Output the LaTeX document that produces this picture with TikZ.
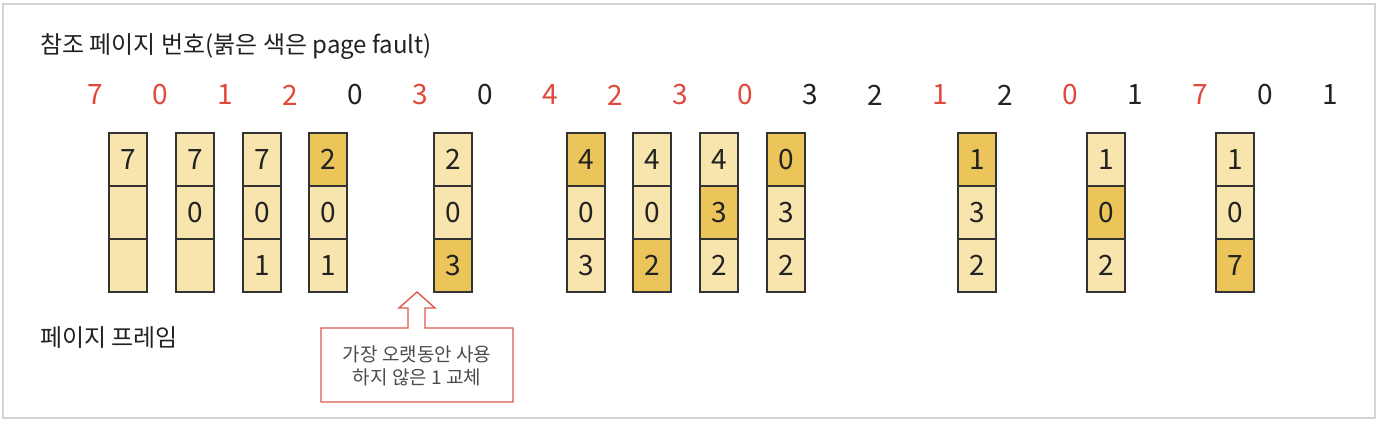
\documentclass[tikz,border=0pt]{standalone}
\usepackage{fontspec}
\setmainfont{Noto Sans CJK KR}
\definecolor{lite}{RGB}{248,229,174}
\definecolor{gold}{RGB}{235,196,90}
\definecolor{faultred}{RGB}{226,72,58}
\definecolor{txt}{RGB}{34,34,34}
\definecolor{calloutred}{RGB}{224,88,76}
\definecolor{framegray}{RGB}{212,212,212}
\tikzset{
  cell/.style={draw=black!80, line width=1.3pt, minimum width=38pt, minimum height=53pt, inner sep=0pt, text=txt, font=\fontsize{28}{30}\selectfont},
  lt/.style={fill=lite},
  dk/.style={fill=gold},
  refnum/.style={font=\fontsize{28}{30}\selectfont, inner sep=0pt},
  label/.style={font=\fontsize{24}{28}\selectfont, text=txt, anchor=west, inner sep=0pt},
  callout/.style={draw=calloutred, line width=1.4pt, fill=white, line join=miter},
  callouttext/.style={font=\fontsize{19}{23}\selectfont, text=black!70, align=center, inner sep=0pt}
}
\newcommand{\pcol}[8]{%
  \node[cell,#3] (#1t) at (#2,159.5) {#4};
  \node[cell,#5] (#1m) at (#2,212.5) {#6};
  \node[cell,#7] (#1b) at (#2,265.5) {#8};
}
\begin{document}
\begin{tikzpicture}[x=1pt,y=-1pt]
\useasboundingbox (0,0) rectangle (1378,422);
\fill[white] (0,0) rectangle (1378,422);
\draw[framegray, line width=2pt] (3,4) rectangle (1375,418);

\node[label] (title) at (40,47) {참조 페이지 번호(붉은 색은 page fault)};
\node[label] (framelabel) at (40,338) {페이지 프레임};

\foreach \v/\c [count=\i from 0] in {7/faultred,0/faultred,1/faultred,2/faultred,0/txt,3/faultred,0/txt,4/faultred,2/faultred,3/faultred,0/faultred,3/txt,2/txt,1/faultred,2/txt,0/faultred,1/txt,7/faultred,0/txt,1/txt}
  \node[refnum, text=\c] (r\i) at ({95+65*\i},95) {\v};

\pcol{c0}{128}{lt}{7}{lt}{}{lt}{}
\pcol{c1}{195}{lt}{7}{lt}{0}{lt}{}
\pcol{c2}{262}{lt}{7}{lt}{0}{lt}{1}
\pcol{c3}{328}{dk}{2}{lt}{0}{lt}{1}
\pcol{c5}{453}{lt}{2}{lt}{0}{dk}{3}
\pcol{c7}{586}{dk}{4}{lt}{0}{lt}{3}
\pcol{c8}{652}{lt}{4}{lt}{0}{dk}{2}
\pcol{c9}{719}{lt}{4}{dk}{3}{lt}{2}
\pcol{c10}{786}{dk}{0}{lt}{3}{lt}{2}
\pcol{c13}{977}{dk}{1}{lt}{3}{lt}{2}
\pcol{c15}{1106}{lt}{1}{dk}{0}{lt}{2}
\pcol{c17}{1235}{lt}{1}{lt}{0}{dk}{7}

\draw[callout] (321,328) -- (408,328) -- (408,308) -- (399,308) -- (417,292) -- (435,308) -- (425,308) -- (425,328) -- (513,328) -- (513,402) -- (321,402) -- cycle;
\node[callouttext] (note) at (417,366) {가장 오랫동안 사용\\하지 않은 1 교체};
\end{tikzpicture}
\end{document}
